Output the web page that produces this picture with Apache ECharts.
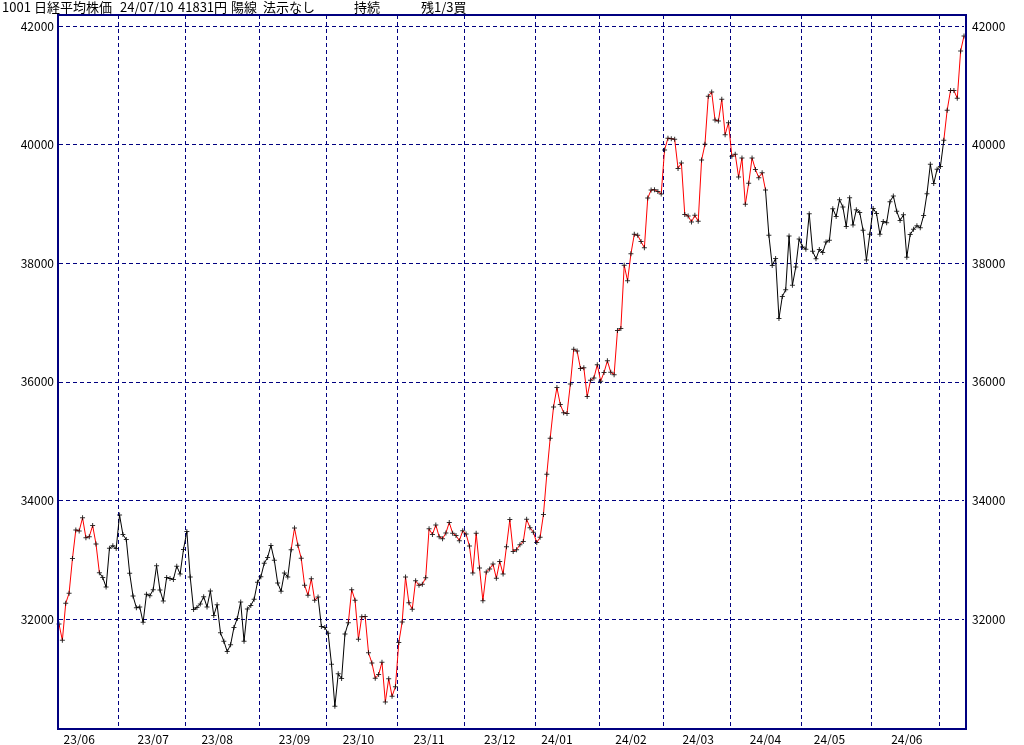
<!DOCTYPE html>
<html><head><meta charset="utf-8">
<script src="https://cdn.jsdelivr.net/npm/echarts@6/dist/echarts.min.js"></script>
<style>html,body{margin:0;padding:0;background:#fff}#c{width:1024px;height:745px}</style>
</head><body><div id="c"></div>
<script>
const dates = [
'23/06/07','23/06/08','23/06/09','23/06/12','23/06/13','23/06/14','23/06/15','23/06/16','23/06/19','23/06/20','23/06/21','23/06/22','23/06/23','23/06/26','23/06/27','23/06/28','23/06/29','23/06/30',
'23/07/03','23/07/04','23/07/05','23/07/06','23/07/07','23/07/10','23/07/11','23/07/12','23/07/13','23/07/14','23/07/18','23/07/19','23/07/20','23/07/21','23/07/24','23/07/25','23/07/26','23/07/27','23/07/28','23/07/31',
'23/08/01','23/08/02','23/08/03','23/08/04','23/08/07','23/08/08','23/08/09','23/08/10','23/08/14','23/08/15','23/08/16','23/08/17','23/08/18','23/08/21','23/08/22','23/08/23','23/08/24','23/08/25','23/08/28','23/08/29','23/08/30','23/08/31',
'23/09/01','23/09/04','23/09/05','23/09/06','23/09/07','23/09/08','23/09/11','23/09/12','23/09/13','23/09/14','23/09/15','23/09/19','23/09/20','23/09/21','23/09/22','23/09/25','23/09/26','23/09/27','23/09/28','23/09/29',
'23/10/02','23/10/03','23/10/04','23/10/05','23/10/06','23/10/10','23/10/11','23/10/12','23/10/13','23/10/16','23/10/17','23/10/18','23/10/19','23/10/20','23/10/23','23/10/24','23/10/25','23/10/26','23/10/27','23/10/30','23/10/31',
'23/11/01','23/11/02','23/11/06','23/11/07','23/11/08','23/11/09','23/11/10','23/11/13','23/11/14','23/11/15','23/11/16','23/11/17','23/11/20','23/11/21','23/11/22','23/11/24','23/11/27','23/11/28','23/11/29','23/11/30',
'23/12/01','23/12/04','23/12/05','23/12/06','23/12/07','23/12/08','23/12/11','23/12/12','23/12/13','23/12/14','23/12/15','23/12/18','23/12/19','23/12/20','23/12/21','23/12/22','23/12/25','23/12/26','23/12/27','23/12/28','23/12/29',
'24/01/04','24/01/05','24/01/09','24/01/10','24/01/11','24/01/12','24/01/15','24/01/16','24/01/17','24/01/18','24/01/19','24/01/22','24/01/23','24/01/24','24/01/25','24/01/26','24/01/29','24/01/30','24/01/31',
'24/02/01','24/02/02','24/02/05','24/02/06','24/02/07','24/02/08','24/02/09','24/02/13','24/02/14','24/02/15','24/02/16','24/02/19','24/02/20','24/02/21','24/02/22','24/02/26','24/02/27','24/02/28','24/02/29',
'24/03/01','24/03/04','24/03/05','24/03/06','24/03/07','24/03/08','24/03/11','24/03/12','24/03/13','24/03/14','24/03/15','24/03/18','24/03/19','24/03/21','24/03/22','24/03/25','24/03/26','24/03/27','24/03/28','24/03/29',
'24/04/01','24/04/02','24/04/03','24/04/04','24/04/05','24/04/08','24/04/09','24/04/10','24/04/11','24/04/12','24/04/15','24/04/16','24/04/17','24/04/18','24/04/19','24/04/22','24/04/23','24/04/24','24/04/25','24/04/26','24/04/30',
'24/05/01','24/05/02','24/05/07','24/05/08','24/05/09','24/05/10','24/05/13','24/05/14','24/05/15','24/05/16','24/05/17','24/05/20','24/05/21','24/05/22','24/05/23','24/05/24','24/05/27','24/05/28','24/05/29','24/05/30','24/05/31',
'24/06/03','24/06/04','24/06/05','24/06/06','24/06/07','24/06/10','24/06/11','24/06/12','24/06/13','24/06/14','24/06/17','24/06/18','24/06/19','24/06/20','24/06/21','24/06/24','24/06/25','24/06/26','24/06/27','24/06/28',
'24/07/01','24/07/02','24/07/03','24/07/04','24/07/05','24/07/08','24/07/09','24/07/10'
];
const closes = [
31914,31641,32265,32434,33019,33502,33485,33706,33370,33389,33575,33265,32782,32699,32538,33194,33234,33189,
33753,33423,33339,32773,32388,32190,32204,31944,32419,32391,32494,32896,32491,32304,32701,32683,32668,32891,32759,33172,
33477,32708,32159,32193,32255,32377,32204,32474,32060,32239,31767,31626,31451,31566,31857,32010,32287,31624,32170,32227,32333,32619,
32711,32939,33037,33241,32991,32607,32468,32776,32707,33168,33533,33243,33024,32571,32402,32679,32315,32372,31873,31858,
31760,31238,30527,31075,30995,31747,31937,32495,32316,31659,32040,32042,31431,31259,31000,31062,31270,30602,30992,30697,30859,
31602,31950,32708,32272,32166,32646,32568,32585,32696,33520,33424,33585,33388,33354,33452,33626,33448,33408,33321,33487,
33432,33231,32776,33446,32858,32308,32792,32844,32926,32686,32971,32759,33219,33676,33140,33169,33254,33306,33681,33540,33464,
33288,33377,33763,34442,35050,35577,35902,35619,35478,35466,35963,36547,36518,36226,36236,35751,36027,36066,36287,
36011,36158,36354,36161,36120,36863,36897,37964,37703,38158,38487,38470,38364,38262,39099,39234,39240,39208,39166,
39911,40109,40098,40091,39599,39689,38820,38798,38696,38807,38708,39740,40004,40816,40888,40414,40398,40763,40168,40369,
39803,39839,39452,39773,38992,39347,39773,39582,39443,39524,39233,38471,37962,38080,37068,37439,37552,38460,37628,37935,38406,
38274,38236,38835,38202,38074,38229,38179,38356,38386,38920,38787,39070,38947,38617,39103,38646,38900,38855,38557,38054,38488,
38923,38837,38490,38704,38684,39038,39135,38877,38720,38815,38102,38482,38571,38633,38596,38805,39173,39667,39342,39583,
39631,40075,40581,40914,40912,40781,41580,41832
];
// index ranges (inclusive) of the red-coloured stretches of the line
const redRanges = [[0,12],[69,77],[86,210],[263,269]];
const yTicks = [32000,34000,36000,38000,40000,42000];
const titleParts = ['1001','日経平均株価','24/07/10','41831円','陽線','法示なし','持続','残1/3買'];

const n = closes.length;
const isRedSeg = i => redRanges.some(r => r[0] <= i && i + 1 <= r[1]);
const redData = new Array(n).fill(null), blackData = new Array(n).fill(null);
for (let i = 0; i < n - 1; i++) {
  const t = isRedSeg(i) ? redData : blackData;
  t[i] = closes[i]; t[i + 1] = closes[i + 1];
}
const mon = i => dates[i].slice(0, 5);
const day = i => +dates[i].slice(6);
const isMonthStart = i => i > 0 && i < n && mon(i) !== mon(i - 1);
const isLabelDay = i => i < n && day(i) >= 15 && (i === 0 || mon(i - 1) !== mon(i) || day(i - 1) < 15);

const NAVY = '#000080';
const FONT = '"Noto Sans CJK JP","Noto Sans",sans-serif';
const yStep = yTicks[1] - yTicks[0];
const yMin = yTicks[0] - yStep, yMax = yTicks[yTicks.length - 1];
// pixel layout
const gLeft = 59, gRight = 964, gTop = 26, pxPerStep = 118.6;
const gBottomPx = gTop + pxPerStep * (yMax - yMin) / yStep;
const step = (gRight - gLeft) / (n - 1);
const g2Left = gLeft - step / 2, g2Width = step * n;

const titleX = [2, 34, 120, 178, 231, 263, 354, 421];

const chart = echarts.init(document.getElementById('c'), null, {renderer: 'canvas'});
chart.setOption({
  animation: false,
  backgroundColor: '#fff',
  grid: [
    {left: gLeft, right: 1024 - gRight, top: gTop, bottom: 745 - gBottomPx},
    {left: g2Left, width: g2Width, top: 15, bottom: 16}
  ],
  xAxis: [
    {gridIndex: 0, type: 'category', data: dates, boundaryGap: false, show: false},
    {gridIndex: 1, type: 'category', data: dates, boundaryGap: true,
      axisLine: {show: false}, axisTick: {show: false},
      splitLine: {show: true, interval: (i) => isMonthStart(i),
        lineStyle: {color: NAVY, width: 1, type: [4, 3]}},
      axisLabel: {interval: (i) => isLabelDay(i), formatter: v => v.slice(0, 5),
        margin: 4, color: '#000', fontSize: 12, fontFamily: FONT}}
  ],
  yAxis: [
    {gridIndex: 0, type: 'value', min: yMin, max: yMax, interval: yStep, position: 'left',
      axisLine: {show: false}, axisTick: {show: false},
      axisLabel: {margin: 5, color: '#000', fontSize: 12, fontFamily: FONT, showMinLabel: false, formatter: v => String(v)},
      splitLine: {show: true, showMinLine: false, lineStyle: {color: NAVY, width: 1, type: [4, 3]}}},
    {gridIndex: 0, type: 'value', min: yMin, max: yMax, interval: yStep, position: 'right',
      axisLine: {show: false}, axisTick: {show: false},
      axisLabel: {margin: 8, color: '#000', fontSize: 12, fontFamily: FONT, showMinLabel: false, formatter: v => String(v)},
      splitLine: {show: false}},
    {gridIndex: 1, type: 'value', min: 0, max: 1, show: false, splitLine: {show: false}}
  ],
  series: [
    {type: 'line', xAxisIndex: 0, yAxisIndex: 0, data: blackData, showSymbol: false, symbol: 'none',
      connectNulls: false, lineStyle: {color: '#000', width: 1}, z: 3, silent: true},
    {type: 'line', xAxisIndex: 0, yAxisIndex: 0, data: redData, showSymbol: false, symbol: 'none',
      connectNulls: false, lineStyle: {color: '#ff0000', width: 1}, z: 3, silent: true},
    {type: 'scatter', xAxisIndex: 0, yAxisIndex: 0, data: closes,
      symbol: 'path://M2 0H3V2H5V3H3V5H2V3H0V2H2Z', symbolSize: 5,
      itemStyle: {color: '#000'}, z: 4, silent: true}
  ],
  graphic: [
    {type: 'rect', shape: {x: 58, y: 15, width: 908, height: 714}, style: {fill: null, stroke: NAVY, lineWidth: 2}, z: 10, silent: true}
  ].concat(titleParts.map((t, k) => ({
    type: 'text', x: titleX[k], y: 7,
    style: {text: t, fill: '#000', font: '13px ' + FONT, textVerticalAlign: 'middle', verticalAlign: 'middle'}
  })))
});
</script></body></html>
